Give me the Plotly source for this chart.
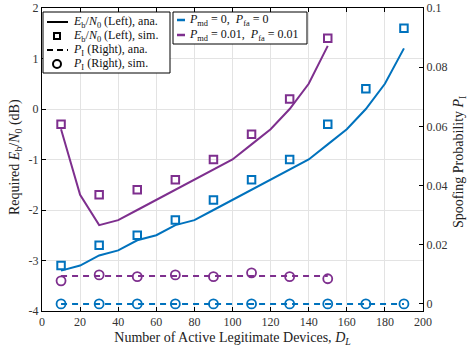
import plotly.graph_objects as go

BLUE = "#0072BD"
PURPLE = "#7E2F8E"
FONT = "Liberation Serif"

# analytical Eb/N0 (dB)
x_ana_a = [10, 20, 30, 40, 50, 60, 70, 80, 90, 100, 110, 120, 130, 140, 150, 160, 170, 180, 190]
eb_ana_a = [-3.2, -3.1, -2.9, -2.8, -2.6, -2.5, -2.3, -2.2, -2.0, -1.8, -1.6, -1.4, -1.2, -1.0, -0.7, -0.4, 0.0, 0.5, 1.2]
x_ana_b = [10, 20, 30, 40, 50, 60, 70, 80, 90, 100, 110, 120, 130, 140, 150]
eb_ana_b = [-0.4, -1.7, -2.3, -2.2, -2.0, -1.8, -1.6, -1.4, -1.2, -1.0, -0.7, -0.4, 0.0, 0.5, 1.25]

# simulated Eb/N0 (dB)
x_sim_a = [10, 30, 50, 70, 90, 110, 130, 150, 170, 190]
eb_sim_a = [-3.1, -2.7, -2.5, -2.2, -1.8, -1.4, -1.0, -0.3, 0.4, 1.6]
x_sim_b = [10, 30, 50, 70, 90, 110, 130, 150]
eb_sim_b = [-0.3, -1.7, -1.6, -1.4, -1.0, -0.5, 0.2, 1.4]

# spoofing probability
pi_ana_a = [0.0] * len(x_ana_a)
pi_ana_b = [0.0094] * len(x_ana_b)
pi_sim_a = [0.0] * len(x_sim_a)
pi_sim_b = [0.0078, 0.0098, 0.0092, 0.0098, 0.0092, 0.0105, 0.0092, 0.0085]

x_ticks = [0, 20, 40, 60, 80, 100, 120, 140, 160, 180, 200]
y_ticks = [-4, -3, -2, -1, 0, 1, 2]
y_labels = ["-4", "-3", "-2", "-1", "0", "1", "2"]
y2_ticks = [0, 0.02, 0.04, 0.06, 0.08, 0.1]
y2_labels = ["0", "0.02", "0.04", "0.06", "0.08", "0.1"]

legend1_labels = [
    "<i>E</i><sub>b</sub>/<i>N</i><sub>0</sub> (Left), ana.",
    "<i>E</i><sub>b</sub>/<i>N</i><sub>0</sub> (Left), sim.",
    "<i>P</i><sub>I</sub> (Right), ana.",
    "<i>P</i><sub>I</sub> (Right), sim.",
]
legend2_labels = [
    "<i>P</i><sub>md</sub> = 0,  <i>P</i><sub>fa</sub> = 0",
    "<i>P</i><sub>md</sub> = 0.01,  <i>P</i><sub>fa</sub> = 0.01",
]

DASH = "6px,5px"

fig = go.Figure()

fig.add_trace(go.Scatter(x=x_ana_a, y=eb_ana_a, mode="lines", line=dict(color=BLUE, width=2), showlegend=False))
fig.add_trace(go.Scatter(x=x_ana_b, y=eb_ana_b, mode="lines", line=dict(color=PURPLE, width=2), showlegend=False))
fig.add_trace(go.Scatter(x=x_sim_a, y=eb_sim_a, mode="markers",
                         marker=dict(symbol="square-open", size=7.5, color=BLUE, line=dict(width=2)), showlegend=False))
fig.add_trace(go.Scatter(x=x_sim_b, y=eb_sim_b, mode="markers",
                         marker=dict(symbol="square-open", size=7.5, color=PURPLE, line=dict(width=2)), showlegend=False))

fig.add_trace(go.Scatter(x=x_ana_a, y=pi_ana_a, yaxis="y2", mode="lines",
                         line=dict(color=BLUE, width=2, dash=DASH), showlegend=False))
fig.add_trace(go.Scatter(x=x_ana_b, y=pi_ana_b, yaxis="y2", mode="lines",
                         line=dict(color=PURPLE, width=2, dash=DASH), showlegend=False))
fig.add_trace(go.Scatter(x=x_sim_a, y=pi_sim_a, yaxis="y2", mode="markers",
                         marker=dict(symbol="circle-open", size=9, color=BLUE, line=dict(width=1.8)), showlegend=False))
fig.add_trace(go.Scatter(x=x_sim_b, y=pi_sim_b, yaxis="y2", mode="markers",
                         marker=dict(symbol="circle-open", size=9, color=PURPLE, line=dict(width=1.8)), showlegend=False))

# ---- hand-built legends (paper coordinates, plot area 42..423 x 8..311 px)
PW, PH, L, B = 381.0, 303.0, 42.0, 311.0


def px(xp):
    return (xp - L) / PW


def py(yp):
    return (B - yp) / PH


shapes = []
annotations = []
LEG_FONT = dict(family=FONT, size=12, color="#111")

# legend 1 box
shapes.append(dict(type="rect", xref="paper", yref="paper", x0=px(43), x1=px(170), y0=py(73), y1=py(12),
                   line=dict(color="black", width=1), fillcolor="white", layer="above"))
rows1 = [22, 36, 50, 64]
shapes.append(dict(type="line", xref="paper", yref="paper", x0=px(47), x1=px(68), y0=py(rows1[0]), y1=py(rows1[0]),
                   line=dict(color="black", width=2), layer="above"))
shapes.append(dict(type="rect", xref="paper", yref="paper", xsizemode="pixel", ysizemode="pixel",
                   xanchor=px(57), yanchor=py(rows1[1]), x0=-3, x1=3, y0=-3, y1=3,
                   line=dict(color="black", width=2), fillcolor="white", layer="above"))
shapes.append(dict(type="line", xref="paper", yref="paper", x0=px(47), x1=px(68), y0=py(rows1[2]), y1=py(rows1[2]),
                   line=dict(color="black", width=2, dash="6px,4px"), layer="above"))
shapes.append(dict(type="circle", xref="paper", yref="paper", xsizemode="pixel", ysizemode="pixel",
                   xanchor=px(57), yanchor=py(rows1[3]), x0=-4, x1=4, y0=-4, y1=4,
                   line=dict(color="black", width=2), fillcolor="white", layer="above"))
for yv, lab in zip(rows1, legend1_labels):
    annotations.append(dict(xref="paper", yref="paper", x=px(71), y=py(yv), xanchor="left", yanchor="middle",
                            text=lab, showarrow=False, font=LEG_FONT))

# legend 2 box
shapes.append(dict(type="rect", xref="paper", yref="paper", x0=px(173), x1=px(307), y0=py(44), y1=py(12),
                   line=dict(color="black", width=1), fillcolor="white", layer="above"))
rows2 = [20, 35]
for yv, col, lab in zip(rows2, [BLUE, PURPLE], legend2_labels):
    shapes.append(dict(type="line", xref="paper", yref="paper", x0=px(177), x1=px(185), y0=py(yv), y1=py(yv),
                       line=dict(color=col, width=2.5), layer="above"))
    annotations.append(dict(xref="paper", yref="paper", x=px(187), y=py(yv), xanchor="left", yanchor="middle",
                            text=lab, showarrow=False, font=LEG_FONT))

# y-axis titles
annotations.append(dict(xref="paper", yref="paper", x=px(15), y=py(157), xanchor="center", yanchor="middle",
                        textangle=-90, showarrow=False,
                        text="Required <i>E</i><sub>b</sub>/<i>N</i><sub>0</sub> (dB)",
                        font=dict(family=FONT, size=14, color="#222")))
annotations.append(dict(xref="paper", yref="paper", x=px(460), y=py(162), xanchor="center", yanchor="middle",
                        textangle=-90, showarrow=False,
                        text="Spoofing Probability <i>P</i><sub>I</sub>",
                        font=dict(family=FONT, size=14, color="#222")))

axis_common = dict(showline=True, linecolor="black", linewidth=1, ticks="inside", ticklen=4,
                   tickcolor="black", tickfont=dict(family=FONT, size=12, color="#333"), zeroline=False)

fig.update_layout(
    width=467, height=353,
    margin=dict(l=42, r=44, t=8, b=42, autoexpand=False),
    paper_bgcolor="white", plot_bgcolor="white",
    font=dict(family=FONT, color="#222"),
    showlegend=False,
    xaxis=dict(range=[0, 200], tickvals=x_ticks, showgrid=True, gridcolor="#e3e3e3", mirror="ticks",
               title=dict(text="Number of Active Legitimate Devices, <i>D<sub>L</sub></i>",
                          font=dict(family=FONT, size=14), standoff=3),
               **axis_common),
    yaxis=dict(range=[-4, 2], tickvals=y_ticks, ticktext=y_labels, showgrid=True, gridcolor="#e3e3e3",
               **axis_common),
    yaxis2=dict(range=[-0.0024, 0.1], tickvals=y2_ticks, ticktext=y2_labels, overlaying="y", side="right",
                showgrid=False, **axis_common),
    shapes=shapes,
    annotations=annotations,
)

fig.write_html("out.html", config={"displayModeBar": False},
               post_script="document.body.style.margin='0';document.body.style.overflow='hidden';")
